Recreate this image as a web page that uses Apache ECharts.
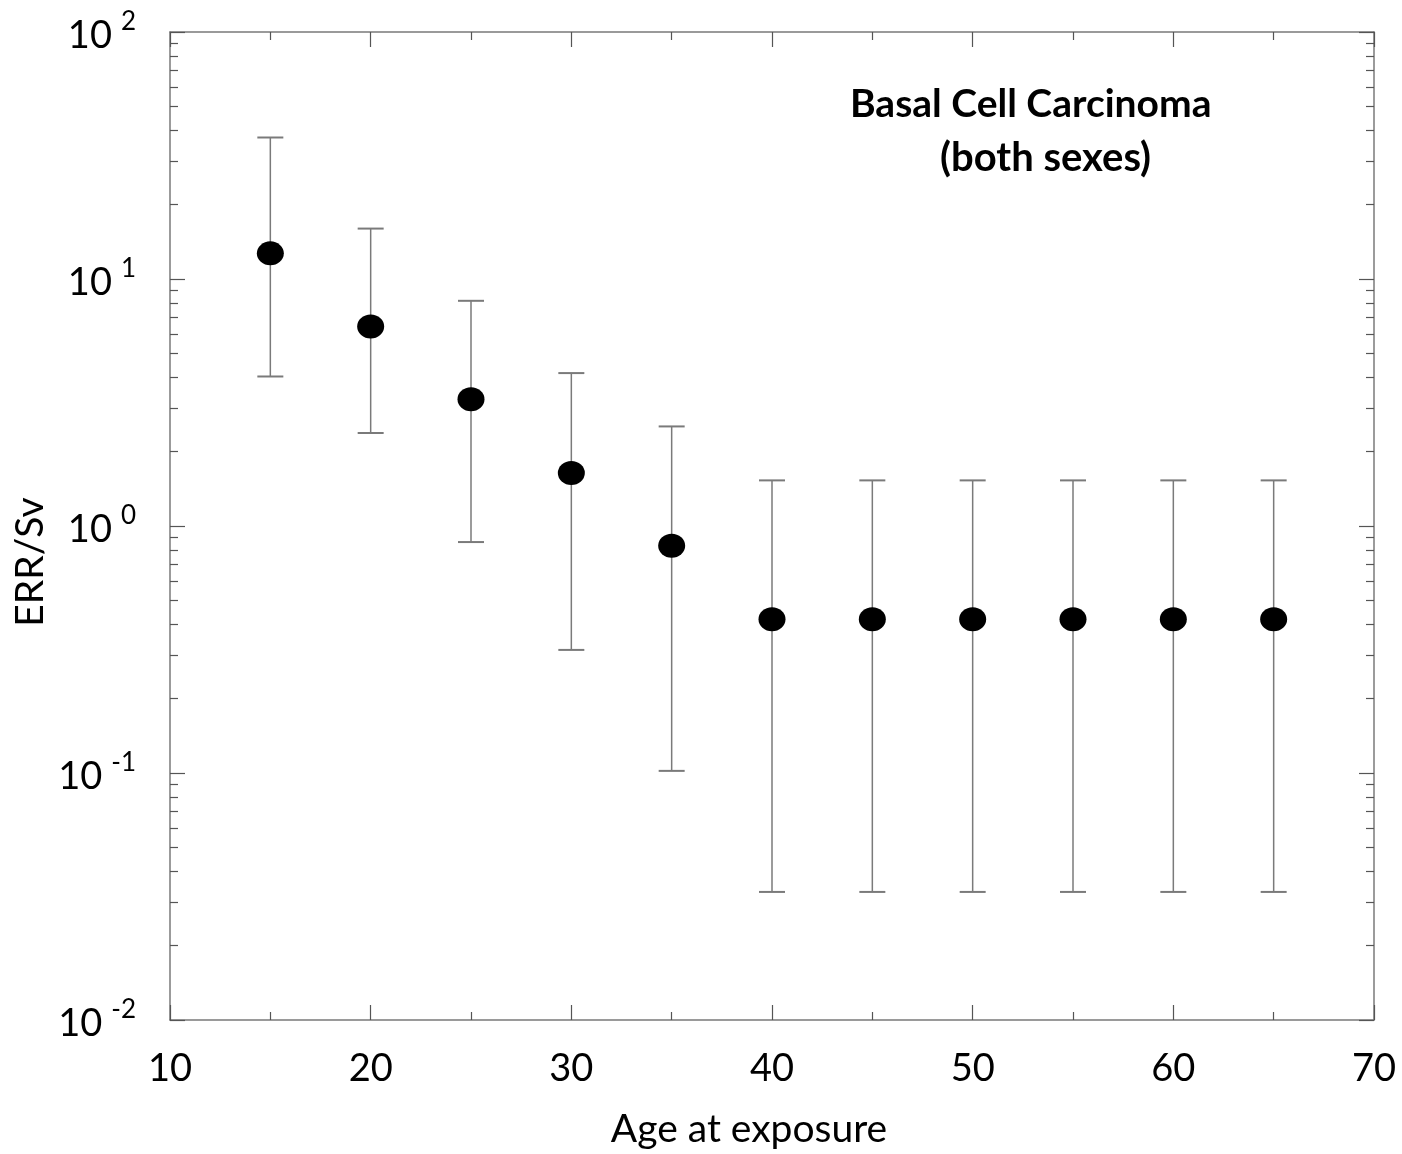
<!DOCTYPE html>
<html><head><meta charset="utf-8">
<script src="https://cdn.jsdelivr.net/npm/echarts@6/dist/echarts.min.js"></script>
<style>html,body{margin:0;padding:0;background:#fff}#c{width:1402px;height:1154px}</style>
</head><body><div id="c"></div>
<script>
// ---- data ----
const ages = [15, 20, 25, 30, 35, 40, 45, 50, 55, 60, 65];
const errPerSv = [12.7, 6.42, 3.26, 1.64, 0.832, 0.419, 0.419, 0.419, 0.419, 0.419, 0.419];
const upperCI = [37.4, 16.0, 8.16, 4.16, 2.53, 1.53, 1.53, 1.53, 1.53, 1.53, 1.53];
const lowerCI = [4.03, 2.38, 0.861, 0.315, 0.102, 0.033, 0.033, 0.033, 0.033, 0.033, 0.033];
const yDecades = [0.01, 0.1, 1, 10, 100];
const titleLine1 = 'Basal Cell Carcinoma';
const titleLine2 = '(both sexes)';
const xName = 'Age at exposure';
const yName = 'ERR/Sv';

const minorY = [];
for (let i = 0; i < yDecades.length - 1; i++) {
  for (let k = 2; k <= 9; k++) minorY.push(+(yDecades[i] * k).toPrecision(3));
}

const FONT = 'Lato, "Open Sans", sans-serif';
const AXIS_COLOR = '#7a7a7a';
const TICK_COLOR = '#555';

const chart = echarts.init(document.getElementById('c'), null, {renderer: 'canvas'});

function yAxisDef(pos, ticks, len, showLabel, showLine) {
  return {
    type: 'log', logBase: 10, min: 0.01, max: 100, position: pos,
    axisLine: {show: showLine, onZero: false, lineStyle: {color: AXIS_COLOR, width: 1.5}},
    axisTick: {show: true, inside: true, length: len, customValues: ticks, lineStyle: {color: TICK_COLOR, width: 1.2}},
    axisLabel: showLabel ? {
      show: true, customValues: ticks, margin: 34, align: 'right',
      formatter: function (v) {
        const e = Math.round(Math.log10(v));
        return '{b|10}{s|' + e + '}';
      },
      rich: {
        b: {fontFamily: FONT, fontSize: 38, color: '#000', lineHeight: 46, verticalAlign: 'bottom', padding: [12, 0, 0, 0]},
        s: {fontFamily: FONT, fontSize: 26, color: '#000', lineHeight: 26, verticalAlign: 'top', padding: [0, 0, 0, 9]}
      }
    } : {show: false},
    splitLine: {show: false}
  };
}

function xAxisDef(pos, showLabel) {
  return {
    type: 'value', min: 10, max: 70, interval: 10, position: pos,
    axisLine: {show: true, onZero: false, lineStyle: {color: AXIS_COLOR, width: 1.5}},
    axisTick: {show: true, inside: true, length: 15, lineStyle: {color: TICK_COLOR, width: 1.2}},
    minorTick: {show: true, splitNumber: 2, length: 8, lineStyle: {color: TICK_COLOR, width: 1.2}},
    axisLabel: {show: showLabel, margin: 30, fontFamily: FONT, fontSize: 38, color: '#000'},
    splitLine: {show: false}, minorSplitLine: {show: false}
  };
}

const errData = ages.map((a, i) => [a, lowerCI[i], upperCI[i]]);
const ptData = ages.map((a, i) => [a, errPerSv[i]]);

chart.setOption({
  backgroundColor: '#fff',
  animation: false,
  grid: {left: 170, right: 28, top: 32, bottom: 134, containLabel: false},
  title: [
    {text: titleLine1, left: 845, top: 80, textStyle: {fontFamily: FONT, fontSize: 39, fontWeight: 'bold', color: '#000'}},
    {text: titleLine2, left: 935, top: 133, textStyle: {fontFamily: FONT, fontSize: 40, fontWeight: 'bold', color: '#000'}}
  ],
  xAxis: [xAxisDef('bottom', true), xAxisDef('top', false)],
  yAxis: [
    yAxisDef('left', yDecades, 15, true, true),
    yAxisDef('left', minorY, 8, false, false),
    yAxisDef('right', yDecades, 15, false, true),
    yAxisDef('right', minorY, 8, false, false)
  ],
  graphic: [
    {type: 'text', x: 30, y: 562, rotation: Math.PI / 2,
     style: {text: yName, fontFamily: FONT, fontSize: 39, fill: '#000', textAlign: 'center', textVerticalAlign: 'middle'}},
    {type: 'text', x: 749, y: 1129,
     style: {text: xName, fontFamily: FONT, fontSize: 39, fill: '#000', textAlign: 'center', textVerticalAlign: 'middle'}}
  ],
  series: [
    {
      type: 'custom', xAxisIndex: 0, yAxisIndex: 0,
      encode: {x: 0, y: [1, 2]},
      data: errData,
      renderItem: function (params, api) {
        const x = api.value(0);
        const lo = api.coord([x, api.value(1)]);
        const hi = api.coord([x, api.value(2)]);
        const hw = 13;
        const st = {stroke: '#7a7a7a', lineWidth: 1.5};
        return {type: 'group', children: [
          {type: 'line', shape: {x1: lo[0], y1: lo[1], x2: hi[0], y2: hi[1]}, style: st},
          {type: 'line', shape: {x1: hi[0] - hw, y1: hi[1], x2: hi[0] + hw, y2: hi[1]}, style: {stroke: '#7a7a7a', lineWidth: 2}},
          {type: 'line', shape: {x1: lo[0] - hw, y1: lo[1], x2: lo[0] + hw, y2: lo[1]}, style: {stroke: '#7a7a7a', lineWidth: 2}}
        ]};
      },
      z: 2
    },
    {
      type: 'scatter', xAxisIndex: 0, yAxisIndex: 0,
      data: ptData, symbol: 'circle', symbolSize: [27, 24],
      itemStyle: {color: '#000', opacity: 1}, z: 3
    }
  ]
});
</script>
</body></html>
